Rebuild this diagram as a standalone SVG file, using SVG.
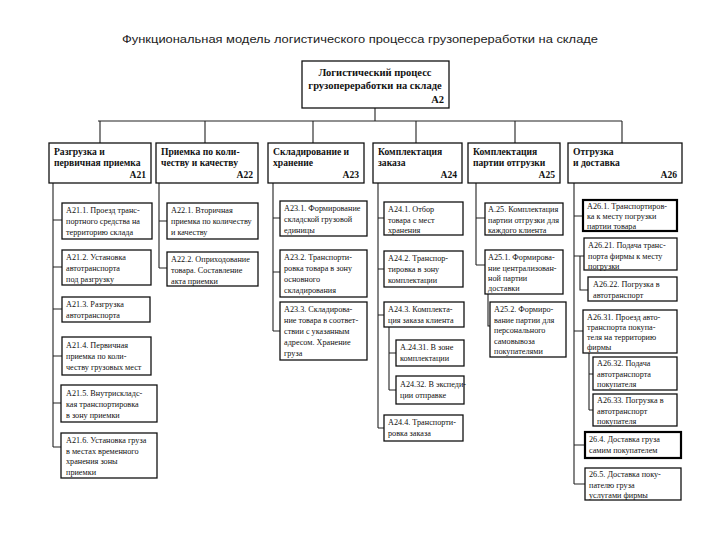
<svg xmlns="http://www.w3.org/2000/svg" width="720" height="540" viewBox="0 0 720 540">
<style>
.bx{fill:#fff;stroke:#111;stroke-width:1.3}
.bk{fill:#fff;stroke:#000;stroke-width:2.2}
.hd{font-family:"Liberation Serif",serif;font-size:9.6px;font-weight:bold;fill:#111}
.tx{font-family:"Liberation Serif",serif;font-size:8.2px;fill:#111}
.mt{font-family:"Liberation Serif",serif;font-size:10.5px;font-weight:bold;fill:#111}
.ln{fill:none;stroke:#222;stroke-width:1.1}
.ttl{font-family:"Liberation Sans",Arial,sans-serif;font-size:11px;fill:#222}
</style>
<rect width="720" height="540" fill="#fff"/>
<text class="ttl" x="360" y="43" text-anchor="middle" textLength="476" lengthAdjust="spacingAndGlyphs">Функциональная модель логистического процесса грузопереработки на складе</text>

<g id="connectors" class="ln">
<path d="M375 108V121M98 121H622M100 121V143M205 121V143M313 121V143M416 121V143M515 121V143M622 121V143"/>
<path d="M53 183V447M53 220H62M53 267H62M53 309H62M53 356H62M53 403H61M53 447H61"/>
<path d="M159 183V268M159 221H167M159 268H167"/>
<path d="M273 183V331M273 218H280M273 272H280M273 331H280"/>
<path d="M378 183V428M378 218H384M378 269H384M378 315H384M378 428H384"/>
<path d="M389 327V390M389 353H396M389 390H396"/>
<path d="M476 183V265M476 218H485M476 265H485M488 294V326H490"/>
<path d="M574 183V484M574 216H583M574 256H584M580 256V290H588M574 331H583M589 353V410M589 374H593M589 410H593M574 445H585M574 484H585"/>
</g>

<g id="A2">
<rect class="bx" x="302" y="61" width="147" height="47"/>
<text class="mt" x="375" y="76" text-anchor="middle">Логистический процесс</text>
<text class="mt" x="375" y="89" text-anchor="middle">грузопереработки на складе</text>
<text class="mt" x="444" y="103" text-anchor="end">А2</text>
</g>

<g id="A21"><rect class="bx" x="49" y="143" width="102" height="40"/>
<text class="hd" x="54" y="155">Разгрузка и</text><text class="hd" x="54" y="166">первичная приемка</text><text class="hd" x="146" y="178" text-anchor="end">А21</text></g>
<g id="A22"><rect class="bx" x="156" y="143" width="102" height="40"/>
<text class="hd" x="161" y="155">Приемка по коли-</text><text class="hd" x="161" y="166">честву и качеству</text><text class="hd" x="253" y="178" text-anchor="end">А22</text></g>
<g id="A23"><rect class="bx" x="268" y="143" width="96" height="40"/>
<text class="hd" x="273" y="155">Складирование и</text><text class="hd" x="273" y="166">хранение</text><text class="hd" x="359" y="178" text-anchor="end">А23</text></g>
<g id="A24"><rect class="bx" x="373" y="143" width="89" height="40"/>
<text class="hd" x="378" y="155">Комплектация</text><text class="hd" x="378" y="166">заказа</text><text class="hd" x="457" y="178" text-anchor="end">А24</text></g>
<g id="A25"><rect class="bx" x="468" y="143" width="92" height="40"/>
<text class="hd" x="473" y="155">Комплектация</text><text class="hd" x="473" y="166">партии отгрузки</text><text class="hd" x="555" y="178" text-anchor="end">А25</text></g>
<g id="A26"><rect class="bx" x="568" y="143" width="114" height="40"/>
<text class="hd" x="573" y="155">Отгрузка</text><text class="hd" x="573" y="166">и доставка</text><text class="hd" x="677" y="178" text-anchor="end">А26</text></g>

<g id="A21.1"><rect class="bx" x="62" y="203" width="90" height="36"/>
<text class="tx" x="66" y="213">А21.1. Проезд транс-</text><text class="tx" x="66" y="224">портного средства на</text><text class="tx" x="66" y="235">территорию склада</text></g>
<g id="A21.2"><rect class="bx" x="62" y="250" width="89" height="35"/>
<text class="tx" x="66" y="260">А21.2. Установка</text><text class="tx" x="66" y="271">автотранспорта</text><text class="tx" x="66" y="282">под разгрузку</text></g>
<g id="A21.3"><rect class="bx" x="62" y="297" width="88" height="25"/>
<text class="tx" x="66" y="307">А21.3. Разгрузка</text><text class="tx" x="66" y="318">автотранспорта</text></g>
<g id="A21.4"><rect class="bx" x="62" y="337" width="89" height="38"/>
<text class="tx" x="66" y="348">А21.4. Первичная</text><text class="tx" x="66" y="359">приемка по коли-</text><text class="tx" x="66" y="370">честву грузовых мест</text></g>
<g id="A21.5"><rect class="bx" x="61" y="385" width="96" height="37"/>
<text class="tx" x="66" y="396">А21.5. Внутрискладс-</text><text class="tx" x="66" y="407">кая транспортировка</text><text class="tx" x="66" y="418">в зону приемки</text></g>
<g id="A21.6"><rect class="bx" x="61" y="433" width="96" height="45"/>
<text class="tx" x="66" y="443">А21.6. Установка груза</text><text class="tx" x="66" y="453.5">в местах временного</text><text class="tx" x="66" y="464">хранения зоны</text><text class="tx" x="66" y="474.5">приемки</text></g>

<g id="A22.1"><rect class="bx" x="167" y="203" width="91" height="36"/>
<text class="tx" x="171" y="213">А22.1. Вторичная</text><text class="tx" x="171" y="224">приемка по количеству</text><text class="tx" x="171" y="235">и качеству</text></g>
<g id="A22.2"><rect class="bx" x="167" y="252" width="91" height="34"/>
<text class="tx" x="171" y="262">А22.2. Оприходование</text><text class="tx" x="171" y="273">товара. Составление</text><text class="tx" x="171" y="284">акта приемки</text></g>

<g id="A23.1"><rect class="bx" x="280" y="201" width="87" height="35"/>
<text class="tx" x="284" y="211">А23.1. Формирование</text><text class="tx" x="284" y="222">складской грузовой</text><text class="tx" x="284" y="233">единицы</text></g>
<g id="A23.2"><rect class="bx" x="280" y="250" width="87" height="47"/>
<text class="tx" x="284" y="260">А23.2. Транспорти-</text><text class="tx" x="284" y="271">ровка товара в зону</text><text class="tx" x="284" y="282">основного</text><text class="tx" x="284" y="293">складирования</text></g>
<g id="A23.3"><rect class="bx" x="280" y="302" width="87" height="58"/>
<text class="tx" x="284" y="312">А23.3. Складирова-</text><text class="tx" x="284" y="323">ние товара в соответ-</text><text class="tx" x="284" y="334">ствии с указанным</text><text class="tx" x="284" y="345">адресом. Хранение</text><text class="tx" x="284" y="356">груза</text></g>

<g id="A24.1"><rect class="bx" x="384" y="202" width="79" height="33"/>
<text class="tx" x="388" y="212">А24.1. Отбор</text><text class="tx" x="388" y="222.5">товара с мест</text><text class="tx" x="388" y="233">хранения</text></g>
<g id="A24.2"><rect class="bx" x="384" y="251" width="79" height="36"/>
<text class="tx" x="388" y="261">А24.2. Транспор-</text><text class="tx" x="388" y="272">тировка в зону</text><text class="tx" x="388" y="283">комплектации</text></g>
<g id="A24.3"><rect class="bx" x="384" y="302" width="80" height="25"/>
<text class="tx" x="388" y="312">А24.3. Комплекта-</text><text class="tx" x="388" y="323">ция заказа клиента</text></g>
<g id="A24.31"><rect class="bx" x="396" y="340" width="68" height="26"/>
<text class="tx" x="400" y="350">А.24.31. В зоне</text><text class="tx" x="400" y="361">комплектации</text></g>
<g id="A24.32"><rect class="bx" x="396" y="376" width="68" height="28"/>
<text class="tx" x="400" y="387">А24.32. В экспеди-</text><text class="tx" x="400" y="398">ции отправке</text></g>
<g id="A24.4"><rect class="bx" x="384" y="415" width="79" height="26"/>
<text class="tx" x="388" y="425">А24.4. Транспорти-</text><text class="tx" x="388" y="436">ровка заказа</text></g>

<g id="A25.0"><rect class="bx" x="485" y="203" width="78" height="32"/>
<text class="tx" x="488" y="212">А.25. Комплектация</text><text class="tx" x="488" y="222.5">партии отгрузки для</text><text class="tx" x="488" y="233">каждого клиента</text></g>
<g id="A25.1"><rect class="bx" x="485" y="250" width="78" height="44"/>
<text class="tx" x="488" y="260">А25.1. Формирова-</text><text class="tx" x="488" y="270.5">ние централизован-</text><text class="tx" x="488" y="281">ной партии</text><text class="tx" x="488" y="291">доставки</text></g>
<g id="A25.2"><rect class="bx" x="490" y="302" width="76" height="55"/>
<text class="tx" x="494" y="312">А25.2. Формиро-</text><text class="tx" x="494" y="322.5">вание партии для</text><text class="tx" x="494" y="333">персонального</text><text class="tx" x="494" y="343.5">самовывоза</text><text class="tx" x="494" y="354">покупателями</text></g>

<g id="A26.1"><rect class="bk" x="583" y="200" width="94" height="31"/>
<text class="tx" x="587" y="209">А26.1. Транспортиров-</text><text class="tx" x="587" y="219">ка к месту погрузки</text><text class="tx" x="587" y="229">партии товара</text></g>
<g id="A26.21"><rect class="bx" x="584" y="238" width="93" height="32"/>
<text class="tx" x="588" y="248">А26.21. Подача транс-</text><text class="tx" x="588" y="258.5">порта фирмы к месту</text><text class="tx" x="588" y="268.5">погрузки</text></g>
<g id="A26.22"><rect class="bx" x="588" y="277" width="89" height="24"/>
<text class="tx" x="593" y="287">А26.22. Погрузка в</text><text class="tx" x="593" y="298">автотранспорт</text></g>
<g id="A26.31"><rect class="bx" x="583" y="310" width="94" height="43"/>
<text class="tx" x="587" y="320">А26.31. Проезд авто-</text><text class="tx" x="587" y="330">транспорта покупа-</text><text class="tx" x="587" y="340">теля на территорию</text><text class="tx" x="587" y="350">фирмы</text></g>
<g id="A26.32"><rect class="bx" x="593" y="357" width="84" height="33"/>
<text class="tx" x="597" y="366">А26.32. Подача</text><text class="tx" x="597" y="376.5">автотранспорта</text><text class="tx" x="597" y="387">покупателя</text></g>
<g id="A26.33"><rect class="bx" x="593" y="394" width="84" height="32"/>
<text class="tx" x="597" y="403">А26.33. Погрузка в</text><text class="tx" x="597" y="413.5">автотранспорт</text><text class="tx" x="597" y="424">покупателя</text></g>
<g id="A26.4"><rect class="bk" x="585" y="432" width="96" height="26"/>
<text class="tx" x="589" y="442">26.4. Доставка груза</text><text class="tx" x="589" y="453">самим покупателем</text></g>
<g id="A26.5"><rect class="bx" x="585" y="468" width="96" height="32"/>
<text class="tx" x="589" y="477">26.5. Доставка поку-</text><text class="tx" x="589" y="487.5">пателю груза</text><text class="tx" x="589" y="498">услугами фирмы</text></g>
</svg>
